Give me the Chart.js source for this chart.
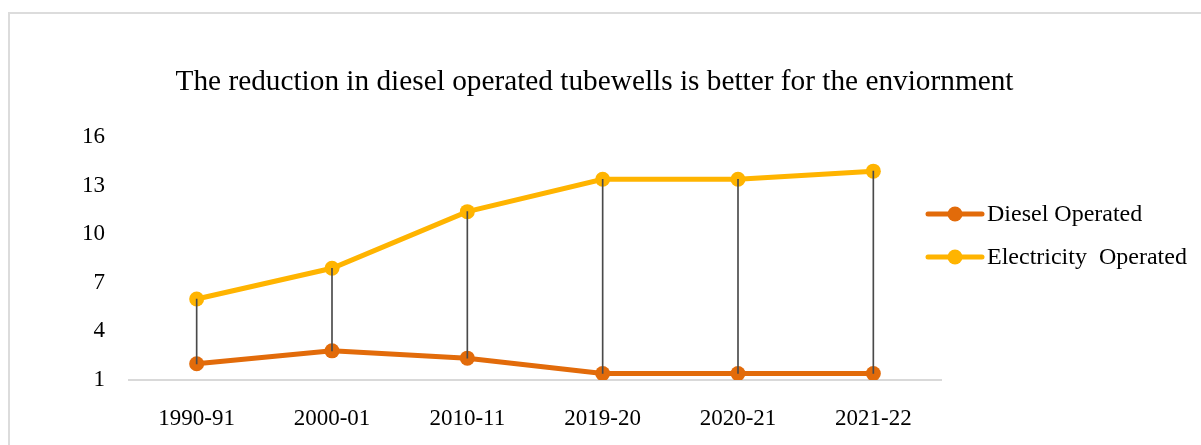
<!DOCTYPE html>
<html>
<head>
<meta charset="utf-8">
<script src="https://cdn.jsdelivr.net/npm/chart.js@4/dist/chart.umd.min.js"></script>
<style>
  body { margin: 0; background: #fff; overflow: hidden; }
  #frame { position: absolute; left: 8px; top: 12px; width: 1300px; height: 600px; border: 2px solid #dcdcdc; }
  #myChart { position: absolute; left: 0; top: 0; }
</style>
</head>
<body>
<div id="frame"></div>
<canvas id="myChart" width="1201" height="445"></canvas>
<script>
// datos
const anios = ["1990-91", "2000-01", "2010-11", "2019-20", "2020-21", "2021-22"];
const diesel = [2.0, 2.8, 2.35, 1.4, 1.4, 1.4];
const electricidad = [6.0, 7.9, 11.4, 13.4, 13.4, 13.9];
const ticksY = [1, 4, 7, 10, 13, 16];

const colorDiesel = "#E26B0A";
const colorElec = "#FFB400";
const fuente = "'Liberation Serif', 'Times New Roman', serif";

// lineas verticales entre las dos series (barras flotantes finas)
const lineasAltoBajo = diesel.map((d, i) => [d, electricidad[i]]);

// leyenda dibujada a mano (linea con punto), solo para las series de linea
const leyendaPlugin = {
  id: "leyendaManual",
  afterDraw(chart) {
    const ctx = chart.ctx;
    const x0 = chart.chartArea.right - 13;
    let y = 214;
    chart.data.datasets.forEach((ds) => {
      if (ds.type !== "line") return;
      ctx.save();
      ctx.strokeStyle = ds.borderColor;
      ctx.lineWidth = 5;
      ctx.lineCap = "round";
      ctx.beginPath();
      ctx.moveTo(x0, y);
      ctx.lineTo(x0 + 54, y);
      ctx.stroke();
      ctx.fillStyle = ds.borderColor;
      ctx.beginPath();
      ctx.arc(x0 + 27, y, 7.5, 0, Math.PI * 2);
      ctx.fill();
      ctx.fillStyle = "#000";
      ctx.font = "24px " + fuente;
      ctx.textBaseline = "middle";
      ctx.fillText(ds.label, x0 + 59, y + 1);
      ctx.restore();
      y += 43;
    });
  },
};

const ctx = document.getElementById("myChart").getContext("2d");
const myChart = new Chart(ctx, {
  data: {
    labels: anios,
    datasets: [
      {
        type: "bar",
        label: "altoBajo",
        data: lineasAltoBajo,
        backgroundColor: "#4a4a4a",
        barThickness: 1,
        order: 0,
      },
      {
        type: "line",
        label: "Diesel Operated",
        data: diesel,
        borderColor: colorDiesel,
        backgroundColor: colorDiesel,
        borderWidth: 5,
        tension: 0,
        pointRadius: 7.5,
        pointBorderWidth: 0,
        pointBackgroundColor: colorDiesel,
        order: 1,
      },
      {
        type: "line",
        label: "Electricity  Operated",
        data: electricidad,
        borderColor: colorElec,
        backgroundColor: colorElec,
        borderWidth: 5,
        tension: 0,
        pointRadius: 7.5,
        pointBorderWidth: 0,
        pointBackgroundColor: colorElec,
        order: 1,
      },
    ],
  },
  options: {
    responsive: false,
    animation: false,
    layout: { padding: { left: 0, right: 12, top: 0, bottom: 12 } },
    plugins: {
      legend: { display: false },
      tooltip: { enabled: false },
      title: {
        display: true,
        text: "The reduction in diesel operated tubewells is better for the enviornment",
        color: "#000",
        font: { family: fuente, size: 29.3, weight: "normal" },
        padding: { top: 65, bottom: 37 },
      },
    },
    scales: {
      x: {
        offset: true,
        afterFit: (scale) => { scale.height = 53; },
        grid: { display: false, drawTicks: false },
        border: { display: true, color: "#d9d9d9", width: 2 },
        ticks: { color: "#000", font: { family: fuente, size: 23 }, padding: 25 },
      },
      y: {
        min: 1,
        max: 16,
        afterFit: (scale) => { scale.width = 129; },
        afterBuildTicks: (scale) => { scale.ticks = ticksY.map((v) => ({ value: v })); },
        grid: { display: false, drawTicks: false },
        border: { display: false },
        ticks: { color: "#000", font: { family: fuente, size: 23 }, padding: 24 },
      },
      yDer: {
        position: "right",
        afterFit: (scale) => { scale.width = 248; },
        grid: { display: false, drawTicks: false },
        border: { display: false },
        ticks: { display: false },
      },
    },
  },
  plugins: [leyendaPlugin],
});
</script>
</body>
</html>
